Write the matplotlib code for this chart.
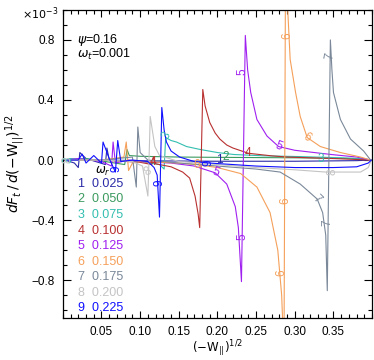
import numpy as np
import matplotlib
matplotlib.use("Agg")
import matplotlib.pyplot as plt
from matplotlib.ticker import MultipleLocator

plt.rcParams['font.family'] = ['Liberation Sans', 'DejaVu Sans']
plt.rcParams['mathtext.fontset'] = 'dejavusans'

# curve parameters (omega_r) and colours
omega_r = [0.025, 0.050, 0.075, 0.100, 0.125, 0.150, 0.175, 0.200, 0.225]
colors = ['#2a2aa8', '#3a9a5e', '#33bfb0', '#b83030', '#a020f0',
          '#f5a05a', '#7a8899', '#c4c4c4', '#1010ff']

x1 = [0.003, 0.015, 0.020, 0.022, 0.030, 0.055, 0.057, 0.060, 0.100, 0.200, 0.300, 0.380, 0.398]
y1 = [0.0, -0.02, -0.05, 0.05, 0.01, -0.03, 0.08, 0.0, -0.005, -0.008, -0.008, -0.004, 0.0]

x2 = [0.003, 0.030, 0.080, 0.083, 0.086, 0.100, 0.150, 0.200, 0.300, 0.380, 0.398]
y2 = [0.0, 0.01, -0.03, 0.07, 0.03, 0.025, 0.02, 0.018, 0.015, 0.01, 0.0]

x3 = [0.003, 0.010, 0.050, 0.100, 0.125, 0.131, 0.133, 0.140, 0.147, 0.160, 0.178, 0.200, 0.221, 0.260, 0.307, 0.360, 0.390, 0.398]
y3 = [0.0, 0.01, 0.0, -0.01, -0.03, -0.06, 0.15, 0.13, 0.12, 0.09, 0.07, 0.05, 0.037, 0.028, 0.023, 0.015, 0.008, 0.0]

x4 = [0.003, 0.050, 0.100, 0.115, 0.117, 0.120, 0.140, 0.155, 0.164, 0.171, 0.175, 0.177, 0.181, 0.184, 0.190, 0.197, 0.203, 0.212, 0.220, 0.240, 0.270, 0.290, 0.350, 0.398]
y4 = [0.0, 0.0, -0.015, -0.03, 0.02, -0.025, -0.045, -0.08, -0.12, -0.24, -0.36, -0.45, 0.47, 0.36, 0.25, 0.18, 0.14, 0.10, 0.08, 0.045, 0.028, 0.02, 0.01, 0.0]

x5 = [0.003, 0.020, 0.050, 0.063, 0.065, 0.068, 0.085, 0.100, 0.140, 0.170, 0.197, 0.212, 0.223, 0.227, 0.231, 0.236, 0.239, 0.243, 0.251, 0.264, 0.279, 0.300, 0.347, 0.380, 0.398]
y5 = [0.0, 0.01, -0.01, -0.04, 0.12, -0.02, 0.0, -0.01, -0.02, -0.04, -0.085, -0.16, -0.31, -0.45, -0.81, 0.83, 0.60, 0.45, 0.27, 0.16, 0.09, 0.065, 0.037, 0.02, 0.0]

x6 = [0.003, 0.050, 0.079, 0.082, 0.085, 0.090, 0.100, 0.150, 0.173, 0.200, 0.230, 0.251, 0.268, 0.278, 0.283, 0.286, 0.288, 0.294, 0.301, 0.307, 0.316, 0.333, 0.359, 0.385, 0.398]
y6 = [0.0, 0.0, 0.02, 0.12, -0.07, -0.02, -0.01, -0.02, -0.03, -0.05, -0.09, -0.18, -0.35, -0.60, -0.90, -1.30, 1.30, 0.67, 0.45, 0.29, 0.15, 0.09, 0.05, 0.02, 0.0]

x7 = [0.003, 0.050, 0.090, 0.095, 0.097, 0.100, 0.110, 0.150, 0.200, 0.250, 0.281, 0.307, 0.329, 0.336, 0.340, 0.342, 0.346, 0.348, 0.350, 0.359, 0.372, 0.389, 0.398]
y7 = [0.0, 0.0, 0.02, -0.18, 0.22, 0.05, 0.0, -0.02, -0.04, -0.06, -0.08, -0.16, -0.26, -0.35, -0.50, -0.87, 0.80, 0.60, 0.45, 0.27, 0.14, 0.06, 0.0]

x8 = [0.003, 0.050, 0.090, 0.103, 0.110, 0.112, 0.113, 0.119, 0.125, 0.150, 0.200, 0.250, 0.300, 0.340, 0.385, 0.395, 0.399]
y8 = [0.0, 0.0, -0.01, -0.04, -0.24, 0.10, 0.29, 0.09, 0.03, -0.01, -0.03, -0.05, -0.065, -0.08, -0.08, -0.05, 0.0]

x9 = [0.003, 0.020, 0.025, 0.030, 0.040, 0.050, 0.052, 0.060, 0.068, 0.071, 0.075, 0.090, 0.110, 0.118, 0.122, 0.125, 0.128, 0.131, 0.134, 0.140, 0.151, 0.170, 0.190, 0.250, 0.300, 0.350, 0.380, 0.395, 0.399]
y9 = [0.0, 0.0, 0.04, -0.02, 0.03, -0.02, 0.12, 0.01, -0.08, 0.13, -0.01, 0.0, -0.01, -0.05, -0.10, -0.38, 0.35, 0.20, 0.12, 0.06, 0.02, -0.01, -0.02, -0.04, -0.05, -0.05, -0.045, -0.02, 0.0]

curves = [(x1, y1), (x2, y2), (x3, y3), (x4, y4), (x5, y5),
          (x6, y6), (x7, y7), (x8, y8), (x9, y9)]

# in-line curve labels: (curve number, x, y, rotation)
curve_labels = [
    (1, 0.202, 0.0, 0), (2, 0.211, 0.02, 0), (3, 0.134, 0.16, 60), (3, 0.333, 0.01, 0),
    (3, 0.008, 0.0, 90), (4, 0.240, 0.045, 0), (4, 0.116, -0.01, 0),
    (5, 0.232, 0.59, 90), (5, 0.232, -0.51, 90), (5, 0.197, -0.085, -20), (5, 0.279, 0.09, -20),
    (6, 0.290, 0.83, 90), (6, 0.288, -0.27, 90), (6, 0.283, -0.75, 90), (6, 0.316, 0.15, -35),
    (6, 0.173, -0.03, 0),
    (7, 0.345, 0.69, 80), (7, 0.329, -0.26, -45), (7, 0.342, -0.42, 90),
    (8, 0.110, -0.08, 30), (8, 0.349, -0.08, 90), (8, 0.006, 0.0, 90),
    (9, 0.125, -0.15, 90), (9, 0.188, -0.02, 90), (9, 0.070, -0.06, 90),
]

fig = plt.figure(figsize=(3.74, 3.6), dpi=100)
ax = fig.add_axes([0.168, 0.1175, 0.827, 0.855])

for (xs, ys), c in zip(curves, colors):
    ax.plot(xs, ys, color=c, lw=0.8)

for n, lx, ly, rot in curve_labels:
    ax.text(lx, ly, str(n), color=colors[n - 1], fontsize=8.5, rotation=rot,
            ha='center', va='center')

ax.set_xlim(0, 0.4)
ax.set_ylim(-1.05, 1.0)
ax.xaxis.set_minor_locator(MultipleLocator(0.01))
ax.yaxis.set_minor_locator(MultipleLocator(0.1))
ax.set_xticks([0.05, 0.10, 0.15, 0.20, 0.25, 0.30, 0.35])
ax.set_xticklabels(['0.05', '0.10', '0.15', '0.20', '0.25', '0.30', '0.35'])
ax.set_yticks([-0.8, -0.4, 0.0, 0.4, 0.8])
ax.set_yticklabels(['\u22120.8', '\u22120.4', '0.0', '0.4', '0.8'])
ax.tick_params(which='both', direction='in', top=True, right=True, labelsize=8.5, width=0.8)
ax.tick_params(axis='y', which='major', length=6, pad=6)
ax.tick_params(axis='x', which='major', length=5, pad=6)
ax.tick_params(which='minor', length=3)
for s in ax.spines.values():
    s.set_linewidth(0.9)

ax.set_xlabel(r'$(-\mathrm{W}_{||})^{1/2}$', fontsize=8.5, labelpad=0)
ax.set_ylabel(r'$dF_t\,/\,d(-\mathrm{W}_{||})^{1/2}$', fontsize=10, labelpad=3)
fig.text(0.06, 0.985, r'$\times10^{-3}$', fontsize=8, va='top', ha='left')

ax.text(0.045, 0.9025, r'$\psi$=0.16', transform=ax.transAxes, fontsize=9, va='center')
ax.text(0.045, 0.854, r'$\omega_t$=0.001', transform=ax.transAxes, fontsize=9, va='center')

# omega_r legend
ax.text(0.105, 0.475, r'$\omega_r$', transform=ax.transAxes, fontsize=8.5, va='center')
for i, (w, c) in enumerate(zip(omega_r, colors)):
    ax.text(0.048, 0.4345 - 0.0504 * i, f'{i + 1}  {w:.3f}', color=c,
            transform=ax.transAxes, fontsize=9, va='center')

fig.savefig('out.png', dpi=100)
